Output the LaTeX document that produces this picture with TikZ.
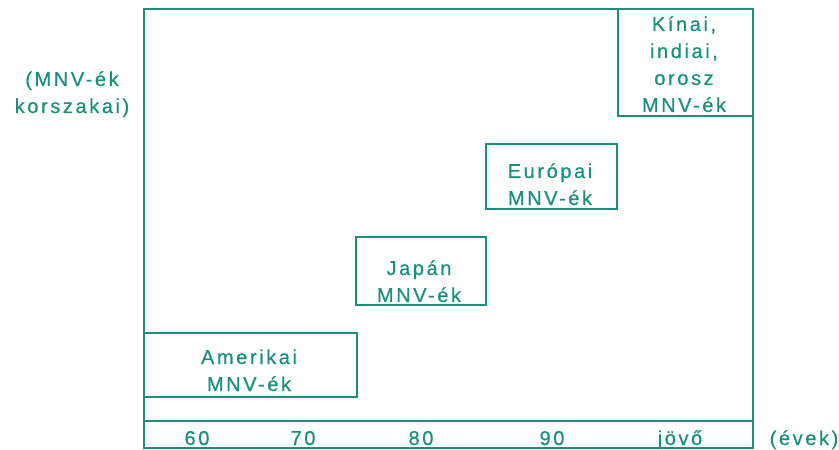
\documentclass[tikz,border=0pt]{standalone}
\usepackage{fontspec}
\setmainfont[LetterSpace=13,FakeBold=0.6]{Liberation Sans}
\definecolor{teal1}{RGB}{24,144,122}
\begin{document}
\begin{tikzpicture}[x=1bp,y=-1bp,
  frame/.style={draw=teal1,line width=2.4bp},
  boxx/.style={draw=teal1,line width=2.4bp,inner sep=0pt,anchor=north west},
  lbl/.style={text=teal1,font=\fontsize{20bp}{27bp}\selectfont,align=center,inner sep=0pt,anchor=base}]
\useasboundingbox (0,0) rectangle (839,450);
% outer frame
\node[boxx,minimum width=609bp,minimum height=439bp] (frm) at (143,8) {};
\coordinate (sl) at (143,421);
\coordinate (sr) at (752,421);
\draw[frame] (sl) -- (sr);
% era boxes
\node[boxx,minimum width=213bp,minimum height=64bp] (am) at (143,332) {};
\node[boxx,minimum width=130bp,minimum height=68bp] (jp) at (355,236) {};
\node[boxx,minimum width=131bp,minimum height=65bp] (eu) at (485,143) {};
\node[boxx,minimum width=135bp,minimum height=107bp] (ki) at (617,8) {};
% box labels (anchor = baseline of last line)
\node[lbl] (tam) at (249,391) {Amerikai\\MNV-ék};
\node[lbl] (tjp) at (419,302) {Japán\\MNV-ék};
\node[lbl] (teu) at (550,205) {Európai\\MNV-ék};
\node[lbl] (tki) at (684,112) {Kínai,\\indiai,\\orosz\\MNV-ék};
% axis labels
\node[lbl] (ylab) at (72,113) {(MNV-ék\\korszakai)};
\node[lbl] (y60) at (197,445) {60};
\node[lbl] (y70) at (303,445) {70};
\node[lbl] (y80) at (421,445) {80};
\node[lbl] (y90) at (552,445) {90};
\node[lbl] (yjv) at (680,445) {jövő};
\node[lbl] (xlab) at (804,445) {(évek)};
\end{tikzpicture}
\end{document}
